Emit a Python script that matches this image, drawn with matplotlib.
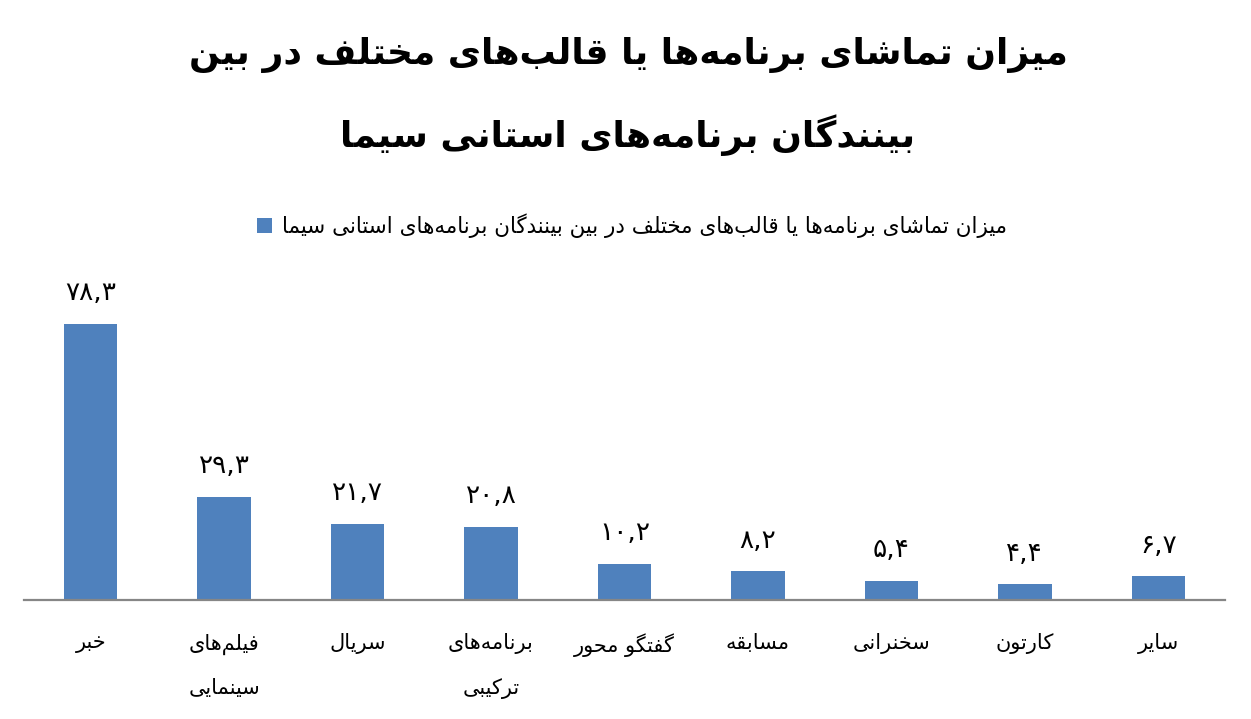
import matplotlib
matplotlib.use("Agg")
import matplotlib.pyplot as plt
from matplotlib.patches import Patch

# ---------------- data ----------------
categories = ["خبر", "فیلم‌های\nسینمایی", "سریال", "برنامه‌های\nترکیبی", "گفتگو محور",
              "مسابقه", "سخنرانی", "کارتون", "سایر"]
values = [78.3, 29.3, 21.7, 20.8, 10.2, 8.2, 5.4, 4.4, 6.7]
title_lines = ["میزان تماشای برنامه‌ها یا قالب‌های مختلف در بین",
               "بینندگان برنامه‌های استانی سیما"]
series_name = "میزان تماشای برنامه‌ها یا قالب‌های مختلف در بین بینندگان برنامه‌های استانی سیما"

# ---------------- minimal Arabic/Persian shaping ----------------
FORMS = {
    '\u0627': ('\uFE8D', '\uFE8E', None, None),
    '\u0628': ('\uFE8F', '\uFE90', '\uFE91', '\uFE92'),
    '\u062A': ('\uFE95', '\uFE96', '\uFE97', '\uFE98'),
    '\u062D': ('\uFEA1', '\uFEA2', '\uFEA3', '\uFEA4'),
    '\u062E': ('\uFEA5', '\uFEA6', '\uFEA7', '\uFEA8'),
    '\u062F': ('\uFEA9', '\uFEAA', None, None),
    '\u0631': ('\uFEAD', '\uFEAE', None, None),
    '\u0632': ('\uFEAF', '\uFEB0', None, None),
    '\u0633': ('\uFEB1', '\uFEB2', '\uFEB3', '\uFEB4'),
    '\u0634': ('\uFEB5', '\uFEB6', '\uFEB7', '\uFEB8'),
    '\u0641': ('\uFED1', '\uFED2', '\uFED3', '\uFED4'),
    '\u0642': ('\uFED5', '\uFED6', '\uFED7', '\uFED8'),
    '\u0644': ('\uFEDD', '\uFEDE', '\uFEDF', '\uFEE0'),
    '\u0645': ('\uFEE1', '\uFEE2', '\uFEE3', '\uFEE4'),
    '\u0646': ('\uFEE5', '\uFEE6', '\uFEE7', '\uFEE8'),
    '\u0647': ('\uFEE9', '\uFEEA', '\uFEEB', '\uFEEC'),
    '\u0648': ('\uFEED', '\uFEEE', None, None),
    '\u064A': ('\uFEF1', '\uFEF2', '\uFEF3', '\uFEF4'),
    '\u06CC': ('\uFBFC', '\uFBFD', '\uFBFE', '\uFBFF'),
    '\u06A9': ('\uFB8E', '\uFB8F', '\uFB90', '\uFB91'),
    '\u06AF': ('\uFB92', '\uFB93', '\uFB94', '\uFB95'),
}


def _joins_next(c):
    f = FORMS.get(c)
    return f is not None and f[2] is not None


def shape_line(s):
    out = []
    n = len(s)
    for i, c in enumerate(s):
        if c == '\u200c':
            continue
        if c not in FORMS:
            out.append(c)
            continue
        prev = s[i - 1] if i > 0 else None
        nxt = s[i + 1] if i + 1 < n else None
        cp = prev is not None and _joins_next(prev)
        cn = nxt is not None and nxt in FORMS and _joins_next(c)
        iso, fin, ini, med = FORMS[c]
        if cp and cn:
            g = med
        elif cp:
            g = fin
        elif cn:
            g = ini
        else:
            g = iso
        out.append(g)
    return ''.join(reversed(out))


def rtl(s):
    return '\n'.join(shape_line(l) for l in s.split('\n'))


PERSIAN_DIGITS = str.maketrans('0123456789.', '۰۱۲۳۴۵۶۷۸۹,')


def fa_num(v):
    return f"{v:.1f}".translate(PERSIAN_DIGITS)


# ---------------- figure ----------------
W, H = 1251, 719
fig = plt.figure(figsize=(W / 100, H / 100), dpi=100)
fam = ['DejaVu Sans']

ax_left, ax_right = 24 / W, 1225 / W
base_y = 600
ymax = 88
px_per_unit = 3.525
top_y = base_y - ymax * px_per_unit
ax = fig.add_axes([ax_left, 1 - base_y / H, ax_right - ax_left, (base_y - top_y) / H])

bar_color = '#4F81BD'
x = list(range(len(values)))
bars = ax.bar(x, values, width=0.4, color=bar_color, zorder=2)
ax.set_xlim(-0.5, len(values) - 0.5)
ax.set_ylim(0, ymax)

for s in ['top', 'right', 'left']:
    ax.spines[s].set_visible(False)
ax.spines['bottom'].set_color('#868686')
ax.spines['bottom'].set_linewidth(1.6)
ax.set_yticks([])
ax.set_xticks(x)
ax.set_xticklabels([rtl(c) for c in categories], fontsize=15, family=fam,
                   linespacing=2.45, va='top')
ax.tick_params(axis='x', length=0, pad=24)

for xi, v in zip(x, values):
    ax.annotate(fa_num(v), (xi, v), xytext=(0, 22), textcoords='offset points',
                ha='center', va='center', fontsize=19, family=fam)

# title
fig.text(628 / W, 1 - 55 / H, rtl(title_lines[0]), ha='center', va='center',
         fontsize=26, fontweight='bold', family=fam)
fig.text(628 / W, 1 - 135 / H, rtl(title_lines[1]), ha='center', va='center',
         fontsize=26, fontweight='bold', family=fam)

# legend
handle = Patch(facecolor=bar_color, edgecolor='none')
fig.legend([handle], [rtl(series_name)], loc='center', bbox_to_anchor=(632 / W, 1 - 226 / H),
           frameon=False, prop={'family': fam, 'size': 15.5}, handlelength=0.7,
           handleheight=0.7, handletextpad=0.5)

fig.savefig('out.png', dpi=100)
